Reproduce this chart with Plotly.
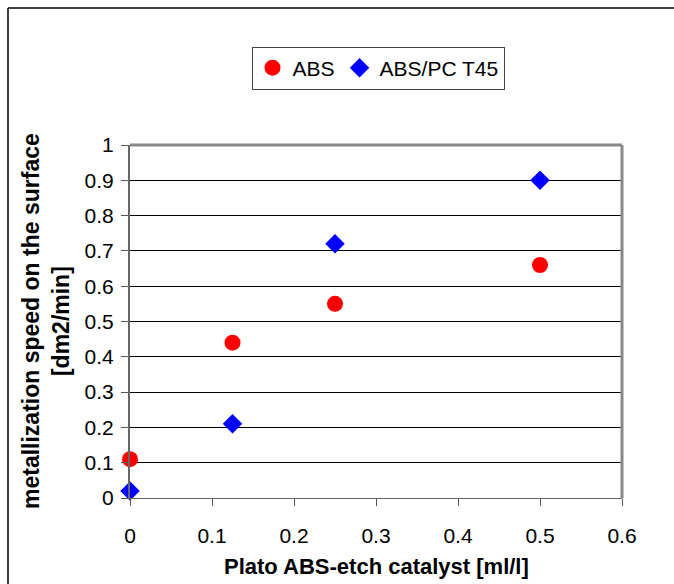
import plotly.graph_objects as go

x_abs = [0, 0.125, 0.25, 0.5]
y_abs = [0.11, 0.44, 0.55, 0.66]
x_pc = [0, 0.125, 0.25, 0.5]
y_pc = [0.02, 0.21, 0.72, 0.9]

W, H = 674, 584
L, R, T, B = 130, 52, 145, 86
pw, ph = W - L - R, H - T - B

fig = go.Figure()
fig.add_trace(go.Scatter(x=x_abs, y=y_abs, mode="markers", name="ABS",
                         marker=dict(symbol="circle", size=16, color="#ff0000"), cliponaxis=False))
fig.add_trace(go.Scatter(x=x_pc, y=y_pc, mode="markers", name="ABS/PC T45",
                         marker=dict(symbol="diamond", size=15, color="#0000ff"), cliponaxis=False))

font = "Liberation Sans, Arial, sans-serif"
fig.update_layout(
    width=W, height=H, margin=dict(l=L, r=R, t=T, b=B),
    paper_bgcolor="white", plot_bgcolor="white",
    font=dict(family=font, size=21, color="black"),
    showlegend=True,
    legend=dict(orientation="h", x=(378 - L) / pw, xanchor="center", y=(H - B - 68) / ph, yanchor="middle",
                bordercolor="#444", borderwidth=1, font=dict(size=21), itemwidth=30,
                tracegroupgap=0),
    xaxis=dict(range=[0, 0.6], dtick=0.1, showgrid=False, zeroline=False,
               ticks="outside", ticklen=7, tickcolor="#555", showline=True, linecolor="#666",
               linewidth=1, mirror=False, tickfont=dict(size=21), ticklabelstandoff=12),
    yaxis=dict(range=[0, 1], dtick=0.1, showgrid=True, gridcolor="black", gridwidth=1,
               zeroline=False, ticks="outside", ticklen=7, tickcolor="#555", showline=True,
               linecolor="#666", linewidth=2, tickfont=dict(size=21), ticklabelstandoff=3),
    shapes=[
        dict(type="line", xref="paper", yref="paper", x0=0, x1=1, y0=1, y1=1,
             line=dict(color="#888", width=3)),
        dict(type="line", xref="paper", yref="paper", x0=1, x1=1, y0=0, y1=1,
             line=dict(color="#888", width=3)),
        dict(type="line", xref="paper", yref="paper", x0=(8 - L) / pw, x1=(W + 5 - L) / pw,
             y0=(H - B - 8) / ph, y1=(H - B - 8) / ph, line=dict(color="black", width=1.5)),
        dict(type="line", xref="paper", yref="paper", x0=(8 - L) / pw, x1=(8 - L) / pw,
             y0=-(B + 10) / ph, y1=(H - B - 8) / ph, line=dict(color="black", width=1.5)),
    ],
    annotations=[
        dict(text="<b>metallization speed on the surface<br>[dm2/min]</b>", textangle=-90,
             xref="paper", yref="paper", x=(46 - L) / pw, y=(H - B - 321) / ph,
             xanchor="center", yanchor="middle", showarrow=False, font=dict(size=23)),
        dict(text="<b>Plato ABS-etch catalyst [ml/l]</b>", xref="paper", yref="paper",
             x=(376 - L) / pw, y=(H - B - 566) / ph, xanchor="center", yanchor="middle",
             showarrow=False, font=dict(size=22)),
    ],
)
fig.write_html("out.html")
